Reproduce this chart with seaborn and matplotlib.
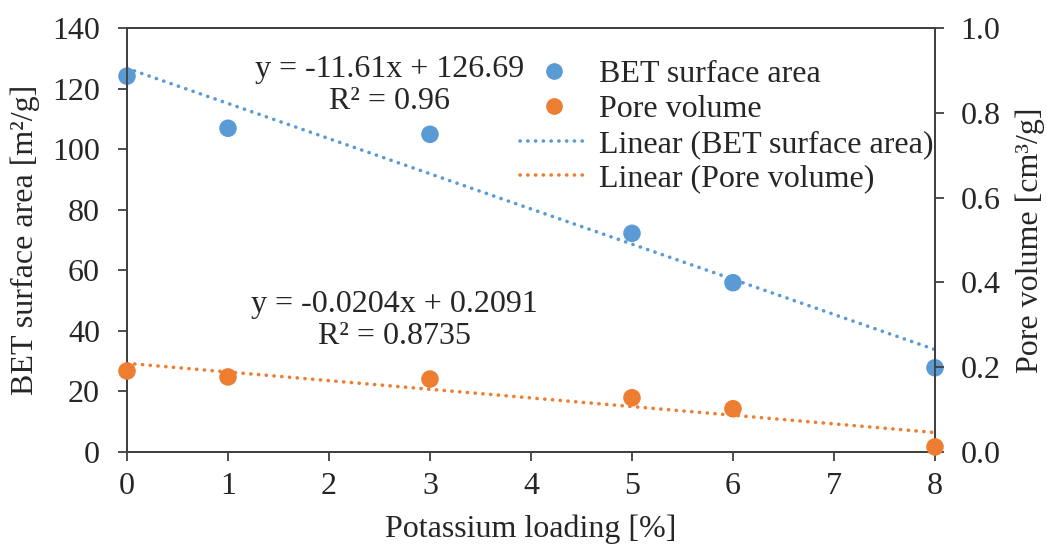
import numpy as np
import pandas as pd
import seaborn as sns
import matplotlib.pyplot as plt
from matplotlib.lines import Line2D

# data
loading = [0, 1, 3, 5, 6, 8]
bet_area = [124.1, 106.9, 104.9, 72.2, 55.9, 27.8]
pore_volume = [0.191, 0.177, 0.172, 0.128, 0.102, 0.012]

# trendline coefficients printed on the chart
bet_fit = (-11.61, 126.69)
pore_fit = (-0.0204, 0.2091)
bet_eq = 'y = -11.61x + 126.69\nR² = 0.96'
pore_eq = 'y = -0.0204x + 0.2091\nR² = 0.8735'

blue = '#5B9BD5'
orange = '#ED7D31'
fs = 23
dots = (0, (0.05, 2.1))

sns.set_style('ticks')
plt.rcParams['font.family'] = ['Liberation Serif', 'DejaVu Serif']
plt.rcParams['font.size'] = fs

df = pd.DataFrame({'loading': loading, 'bet': bet_area, 'pore': pore_volume})
x_line = np.array([loading[0], loading[-1]])
trend = pd.DataFrame({
    'x': x_line,
    'bet': bet_fit[0] * x_line + bet_fit[1],
    'pore': pore_fit[0] * x_line + pore_fit[1],
})

fig, ax = plt.subplots(figsize=(10.47, 5.49), dpi=100)
fig.subplots_adjust(left=0.1213, right=0.893, top=0.949, bottom=0.1767)
ax2 = ax.twinx()

sns.lineplot(data=trend, x='x', y='bet', ax=ax, color=blue, lw=2.6,
             linestyle=dots, dash_capstyle='round')
sns.lineplot(data=trend, x='x', y='pore', ax=ax2, color=orange, lw=2.6,
             linestyle=dots, dash_capstyle='round')
sns.scatterplot(data=df, x='loading', y='bet', ax=ax, color=blue, s=160,
                edgecolor='none', zorder=5, clip_on=False)
sns.scatterplot(data=df, x='loading', y='pore', ax=ax2, color=orange, s=160,
                edgecolor='none', zorder=5, clip_on=False)

ax.set_xlim(0, 8)
ax.set_ylim(0, 140)
ax.set_yticks(range(0, 141, 20))
ax.set_xticks(range(0, 9))
ax2.set_ylim(0, 1.0)
ax2.set_yticks(np.arange(0, 1.01, 0.2))
ax2.set_yticklabels([f'{v:.1f}' for v in np.arange(0, 1.01, 0.2)])

ax.set_xlabel('Potassium loading [%]')
ax.set_ylabel('BET surface area [m²/g]')
ax2.set_ylabel('Pore volume [cm³/g]')
ax.xaxis.set_label_coords(0.5, -0.147)
ax.yaxis.set_label_coords(-0.108, 0.5)
ax2.yaxis.set_label_coords(1.100, 0.5)

for a in (ax, ax2):
    for s in a.spines.values():
        s.set_color('#404040')
        s.set_linewidth(1.3)
    a.tick_params(length=6.5, width=1.3, color='#404040', labelsize=fs)
ax.tick_params(axis='x', pad=8)
ax.tick_params(axis='y', pad=13)
ax2.tick_params(axis='y', pad=12)

ax.text(2.60, 121.0, bet_eq, ha='center', va='center', fontsize=fs, linespacing=1.15)
ax.text(2.65, 43.5, pore_eq, ha='center', va='center', fontsize=fs, linespacing=1.15)

handles = [
    Line2D([], [], marker='o', color=blue, ls='none', markersize=11),
    Line2D([], [], marker='o', color=orange, ls='none', markersize=11),
    Line2D([], [], color=blue, lw=2.6, ls=dots, dash_capstyle='round'),
    Line2D([], [], color=orange, lw=2.6, ls=dots, dash_capstyle='round'),
]
labels = ['BET surface area', 'Pore volume', 'Linear (BET surface area)', 'Linear (Pore volume)']
fig.legend(handles, labels, loc='upper left', bbox_to_anchor=(0.497, 0.891),
           frameon=False, handlelength=2.1, handletextpad=0.35, labelspacing=0.17,
           fontsize=fs, borderaxespad=0, borderpad=0)

plt.savefig('out.png', dpi=100)
